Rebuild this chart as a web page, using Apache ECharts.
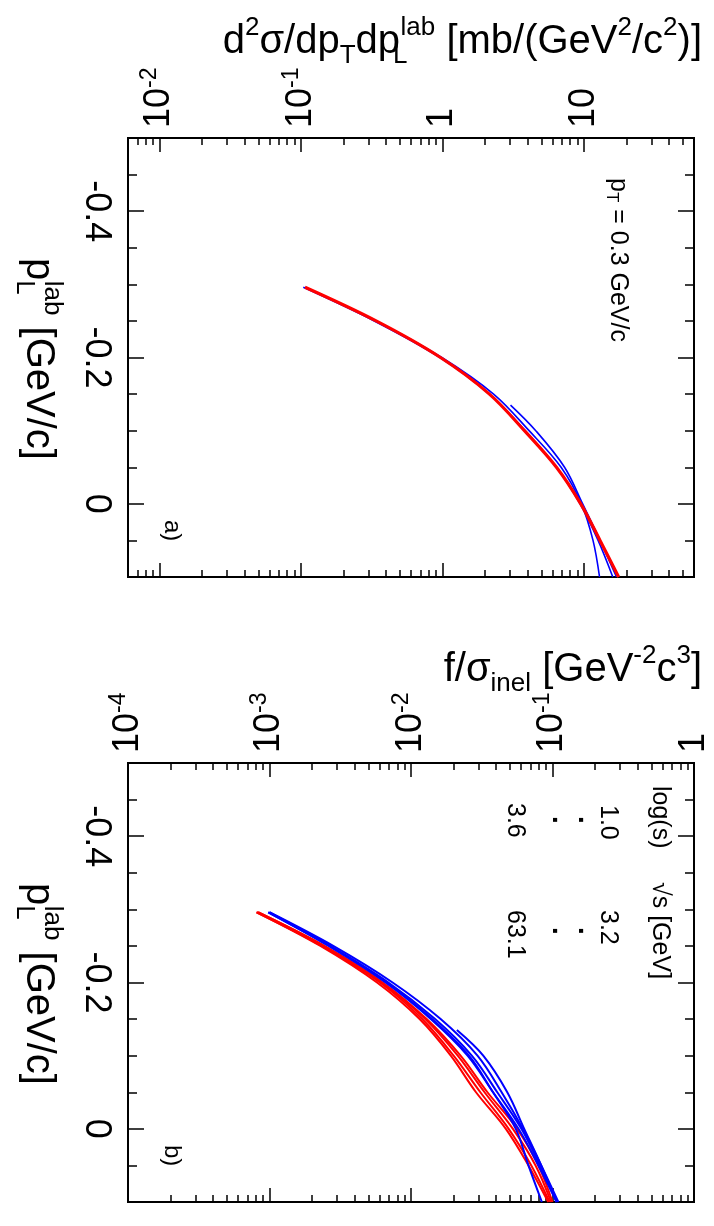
<!DOCTYPE html>
<html>
<head>
<meta charset="utf-8">
<script src="https://cdn.jsdelivr.net/npm/echarts@6/dist/echarts.min.js"></script>
<style>
html, body { margin: 0; padding: 0; background: #fff; }
#chart { width: 714px; height: 1226px; }
</style>
</head>
<body>
<div id="chart"></div>
<script>
// p_L^lab sample points (GeV/c)
var pL = [-0.296, -0.25, -0.2, -0.15, -0.1, -0.05, 0, 0.05, 0.1];
var pLShort = [-0.135, -0.1, -0.05, 0, 0.05, 0.1];

// panel a) d2sigma/dpT dpL [mb/(GeV2/c2)]
var aRed = [0.107, 0.34, 0.97, 2.15, 3.8, 6.4, 9.5, 13.0, 17.6];
var aBlue1 = [0.104, 0.33, 0.96, 2.15, 3.85, 6.4, 9.4, 12.6, 16.0];
var aBlue2 = [0.107, 0.34, 0.99, 2.3, 4.1, 6.9, 9.6, 11.6, 12.9];
var aBlueShort = [3.03, 4.57, 7.3, 9.8, 13.0, 17.0];

// panel b) f/sigma_inel [GeV-2 c3]
var bRed1 = [0.00081, 0.00229, 0.00575, 0.0115, 0.0191, 0.0288, 0.0468, 0.0676, 0.0933];
var bRed2 = [0.00081, 0.00234, 0.00603, 0.0120, 0.0200, 0.0309, 0.0490, 0.0708, 0.0955];
var bRed3 = [0.00083, 0.0024, 0.00617, 0.0126, 0.0214, 0.0331, 0.0525, 0.0759, 0.0977];
var bRed4 = [0.00083, 0.00245, 0.00631, 0.0129, 0.0224, 0.0347, 0.0562, 0.0794, 0.100];
var bBlue1 = [0.00098, 0.00263, 0.00661, 0.0138, 0.0251, 0.0380, 0.0575, 0.0794, 0.107];
var bBlue2 = [0.00100, 0.00269, 0.00692, 0.0148, 0.0269, 0.0407, 0.0603, 0.0813, 0.107];
var bBlue3 = [0.00100, 0.00282, 0.00741, 0.0162, 0.0295, 0.0437, 0.0617, 0.0832, 0.110];
var bBlue5 = [0.00098, 0.00263, 0.00676, 0.0141, 0.0257, 0.0380, 0.0550, 0.0676, 0.0841];
var bBlueShort = [0.0211, 0.0324, 0.0479, 0.0631, 0.0832, 0.107];

// ticks
var pLTicks = [-0.4, -0.2, 0];
var pLTickLabels = ['-0.4', '-0.2', '0'];
var pLMinor = [-0.45, -0.35, -0.3, -0.25, -0.15, -0.1, -0.05, 0.05];

var aLogTicks = [0.01, 0.1, 1, 10];
var aLogLabels = ['10^-2', '10^-1', '1', '10'];
var aLogMinor = [0.006, 0.007, 0.008, 0.009,
    0.02, 0.03, 0.04, 0.05, 0.06, 0.07, 0.08, 0.09,
    0.2, 0.3, 0.4, 0.5, 0.6, 0.7, 0.8, 0.9,
    2, 3, 4, 5, 6, 7, 8, 9,
    20, 30, 40, 50];
var bLogTicks = [0.0001, 0.001, 0.01, 0.1, 1];
var bLogLabels = ['10^-4', '10^-3', '10^-2', '10^-1', '1'];
var bLogMinor = [0.0002, 0.0003, 0.0004, 0.0005, 0.0006, 0.0007, 0.0008, 0.0009,
    0.002, 0.003, 0.004, 0.005, 0.006, 0.007, 0.008, 0.009,
    0.02, 0.03, 0.04, 0.05, 0.06, 0.07, 0.08, 0.09,
    0.2, 0.3, 0.4, 0.5, 0.6, 0.7, 0.8, 0.9];

var FONT = '"Liberation Sans", Arial, sans-serif';
var RED = '#ff0000';
var BLUE = '#0000ff';
var tickLine = { color: '#000', width: 1.5 };

var tickRich = {
    b: { fontSize: 36, lineHeight: 42, fontFamily: FONT, color: '#000' },
    s: { fontSize: 23, lineHeight: 23, fontFamily: FONT, color: '#000', verticalAlign: 'top' }
};
var titleRich = {
    b: { fontSize: 40, lineHeight: 54, fontFamily: FONT, color: '#000' },
    sup: { fontSize: 26, lineHeight: 26, fontFamily: FONT, color: '#000', verticalAlign: 'top' },
    sub: { fontSize: 26, lineHeight: 16, fontFamily: FONT, color: '#000', verticalAlign: 'bottom' },
    subz: { fontSize: 26, lineHeight: 6, fontFamily: FONT, color: '#000', verticalAlign: 'bottom',
            width: 0.5, align: 'left' }
};
var smallRich = {
    b: { fontSize: 25, lineHeight: 30, fontFamily: FONT, color: '#000' },
    sub: { fontSize: 17, lineHeight: 12, fontFamily: FONT, color: '#000', verticalAlign: 'bottom' }
};

function labelOf(vals, labels) {
    return function (v) {
        for (var i = 0; i < vals.length; i++) {
            if (Math.abs(v - vals[i]) <= Math.abs(vals[i]) * 1e-6 + 1e-9) {
                var parts = labels[i].split('^');
                return '{b|' + parts[0] + '}' + (parts[1] ? '{s|' + parts[1] + '}' : '');
            }
        }
        return '';
    };
}

function logAxes(g, min, max, major, labels, minor) {
    var base = {
        gridIndex: g, type: 'log', logBase: 10, min: min, max: max,
        axisLine: { show: false, onZero: false },
        splitLine: { show: false }
    };
    return [
        Object.assign({}, base, {
            position: 'top',
            axisTick: { inside: true, length: 14, customValues: major, lineStyle: tickLine },
            axisLabel: {
                customValues: major, rotate: -90, margin: 10,
                formatter: labelOf(major, labels), rich: tickRich
            }
        }),
        Object.assign({}, base, {
            position: 'top',
            axisTick: { inside: true, length: 7, customValues: minor, lineStyle: tickLine },
            axisLabel: { show: false }
        }),
        Object.assign({}, base, {
            position: 'bottom',
            axisTick: { inside: true, length: 14, customValues: major, lineStyle: tickLine },
            axisLabel: { show: false }
        }),
        Object.assign({}, base, {
            position: 'bottom',
            axisTick: { inside: true, length: 7, customValues: minor, lineStyle: tickLine },
            axisLabel: { show: false }
        })
    ];
}

function pLAxes(g) {
    var base = {
        gridIndex: g, type: 'value', min: -0.5, max: 0.1, inverse: true,
        axisLine: { show: false, onZero: false },
        splitLine: { show: false }
    };
    return [
        Object.assign({}, base, {
            position: 'left',
            axisTick: { inside: true, length: 16, customValues: pLTicks, lineStyle: tickLine },
            axisLabel: {
                customValues: pLTicks, rotate: -90, margin: 11,
                formatter: labelOf(pLTicks, pLTickLabels), rich: tickRich
            }
        }),
        Object.assign({}, base, {
            position: 'left',
            axisTick: { inside: true, length: 9, customValues: pLMinor, lineStyle: tickLine },
            axisLabel: { show: false }
        }),
        Object.assign({}, base, {
            position: 'right',
            axisTick: { inside: true, length: 16, customValues: pLTicks, lineStyle: tickLine },
            axisLabel: { show: false }
        }),
        Object.assign({}, base, {
            position: 'right',
            axisTick: { inside: true, length: 9, customValues: pLMinor, lineStyle: tickLine },
            axisLabel: { show: false }
        })
    ];
}

function curve(axisIdx, xs, ys, color, width) {
    return {
        type: 'line',
        xAxisIndex: axisIdx, yAxisIndex: axisIdx,
        data: xs.map(function (p, i) { return [ys[i], p]; }),
        smooth: 0.35,
        showSymbol: false,
        symbol: 'none',
        lineStyle: { color: color, width: width },
        silent: true
    };
}

function rotText(x, y, text, rich, align, size, weight) {
    return {
        type: 'text', x: x, y: y, rotation: -Math.PI / 2,
        style: { text: text, rich: rich, align: align || 'left', verticalAlign: 'middle',
                 fontFamily: FONT, fontSize: size || 25, fontWeight: weight || 'normal', fill: '#000' }
    };
}

var chart = echarts.init(document.getElementById('chart'), null, { renderer: 'canvas' });

chart.setOption({
    animation: false,
    backgroundColor: '#fff',
    grid: [
        { left: 128, right: 20, top: 138, bottom: 649, show: true, borderColor: '#000', borderWidth: 2, outerBoundsMode: 'none' },
        { left: 128, right: 20, top: 763, bottom: 24, show: true, borderColor: '#000', borderWidth: 2, outerBoundsMode: 'none' }
    ],
    xAxis: logAxes(0, 0.006, 60, aLogTicks, aLogLabels, aLogMinor)
        .concat(logAxes(1, 0.0001, 1, bLogTicks, bLogLabels, bLogMinor)),
    yAxis: pLAxes(0).concat(pLAxes(1)),
    series: [
        curve(0, pL, aBlue1, BLUE, 1.6),
        curve(0, pL, aBlue2, BLUE, 1.6),
        curve(0, pLShort, aBlueShort, BLUE, 1.6),
        curve(0, pL, aRed, RED, 3.2),
        curve(4, pL, bRed1, RED, 2),
        curve(4, pL, bRed2, RED, 2),
        curve(4, pL, bRed3, RED, 2),
        curve(4, pL, bRed4, RED, 2),
        curve(4, pL, bBlue1, BLUE, 2),
        curve(4, pL, bBlue2, BLUE, 2),
        curve(4, pL, bBlue3, BLUE, 2),
        curve(4, pL, bBlue5, BLUE, 2),
        curve(4, pLShort, bBlueShort, BLUE, 2)
    ],
    graphic: [
        { type: 'text', x: 702, y: 42,
          style: { text: '{b|d}{sup|2}{b|σ/dp}{sub|T}{b|dp}{subz|L}{sup|lab}{b| [mb/(GeV}{sup|2}{b|/c}{sup|2}{b|)]}',
                   rich: titleRich, align: 'right', verticalAlign: 'middle', fill: '#000' } },
        { type: 'text', x: 702, y: 670,
          style: { text: '{b|f/σ}{sub|inel}{b| [GeV}{sup|-2}{b|c}{sup|3}{b|]}',
                   rich: titleRich, align: 'right', verticalAlign: 'middle', fill: '#000' } },
        rotText(38, 258, '{b|p}{subz|L}{sup|lab}{b| [GeV/c]}', titleRich, 'left'),
        rotText(38, 883, '{b|p}{subz|L}{sup|lab}{b| [GeV/c]}', titleRich, 'left'),
        rotText(618, 178, '{b|p}{sub|T}{b| = 0.3 GeV/c}', smallRich),
        rotText(172, 520, 'a)', null, 'left', 24),
        rotText(172, 1145, 'b)', null, 'left', 24),
        rotText(660, 786, 'log(s)'),
        rotText(660, 882, '√s [GeV]'),
        rotText(608, 805, '1.0'),
        rotText(608, 910, '3.2'),
        rotText(587, 816, '.', null, 'left', 28, 'bold'),
        rotText(561, 816, '.', null, 'left', 28, 'bold'),
        rotText(587, 927, '.', null, 'left', 28, 'bold'),
        rotText(561, 927, '.', null, 'left', 28, 'bold'),
        rotText(515, 803, '3.6'),
        rotText(515, 910, '63.1')
    ]
});
</script>
</body>
</html>
